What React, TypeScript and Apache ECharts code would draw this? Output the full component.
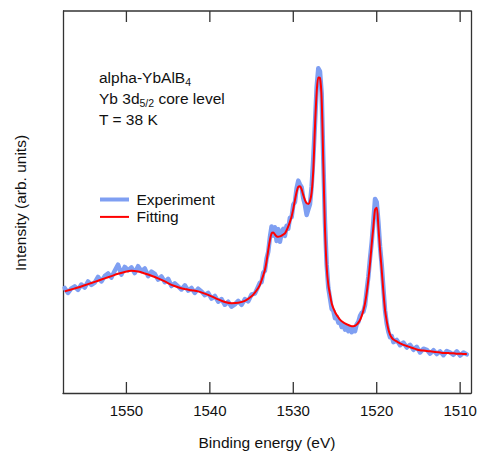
import React, { useEffect, useRef } from 'react';
import * as echarts from 'echarts';

// Binding-energy axis range (eV) and tick values
const energyMin = 1508.7;
const energyMax = 1557.6;
const energyStep = 10;
const energyTicks = [1510, 1520, 1530, 1540, 1550];

// Axis titles
const xTitle = 'Binding energy (eV)';
const yTitle = 'Intensity (arb. units)';

// Fitting curve: [binding energy (eV), intensity (arb. units)]
const fitCurve: [number, number][] = [
  [1557.4, 26.6], [1556.6, 27.1], [1555.8, 27.6], [1555.0, 28.2], [1554.2, 28.8],
  [1553.4, 29.4], [1552.6, 30.0], [1551.8, 30.6], [1551.0, 31.2], [1550.2, 31.7],
  [1549.4, 32.0], [1548.6, 31.8], [1547.8, 31.3], [1547.0, 30.7], [1546.2, 30.0],
  [1545.4, 29.2], [1544.6, 28.3], [1543.8, 27.7], [1543.0, 27.2], [1542.2, 26.9],
  [1541.4, 26.6], [1540.6, 26.0], [1539.8, 25.3], [1539.0, 24.5], [1538.2, 23.8],
  [1537.4, 23.5], [1536.6, 23.6], [1535.8, 24.1], [1535.0, 25.3], [1534.6, 26.3],
  [1534.2, 27.5], [1534.0, 28.3], [1533.8, 29.5], [1533.6, 30.8], [1533.4, 32.2],
  [1533.2, 34.5], [1533.0, 37.4], [1532.8, 40.0], [1532.6, 41.8], [1532.4, 42.0],
  [1532.2, 41.5], [1532.0, 41.0], [1531.8, 40.9], [1531.6, 41.0], [1531.4, 41.2],
  [1531.2, 41.5], [1531.0, 41.8], [1530.8, 42.6], [1530.6, 43.6], [1530.4, 44.8],
  [1530.2, 46.2], [1530.0, 48.2], [1529.8, 50.5], [1529.6, 52.6], [1529.4, 54.0],
  [1529.2, 54.1], [1529.0, 53.3], [1528.8, 51.8], [1528.6, 50.5], [1528.4, 49.7],
  [1528.2, 49.5], [1528.0, 50.2], [1527.8, 52.5], [1527.6, 58.4], [1527.4, 69.7],
  [1527.2, 78.5], [1527.0, 82.6], [1526.8, 82.5], [1526.6, 77.0], [1526.4, 60.0],
  [1526.2, 43.0], [1526.0, 33.0], [1525.8, 28.3], [1525.6, 25.8], [1525.4, 23.5],
  [1525.2, 22.2], [1525.0, 21.2], [1524.8, 20.4], [1524.6, 19.8], [1524.4, 19.2],
  [1524.2, 18.8], [1524.0, 18.5], [1523.8, 18.2], [1523.6, 18.0], [1523.4, 17.8],
  [1523.2, 17.6], [1523.0, 17.5], [1522.8, 17.5], [1522.6, 17.6], [1522.4, 17.9],
  [1522.2, 18.4], [1522.0, 19.1], [1521.8, 20.2], [1521.6, 21.6], [1521.4, 23.5],
  [1521.2, 26.2], [1521.0, 29.8], [1520.8, 34.0], [1520.6, 39.0], [1520.4, 43.5],
  [1520.2, 48.0], [1520.0, 48.5], [1519.8, 43.5], [1519.6, 37.5], [1519.4, 32.2],
  [1519.2, 26.5], [1519.0, 21.7], [1518.8, 18.8], [1518.6, 16.6], [1518.4, 15.3],
  [1518.2, 14.5], [1518.0, 14.0], [1517.6, 13.5], [1517.2, 13.0], [1516.8, 12.6],
  [1516.4, 12.3], [1516.0, 12.0], [1515.6, 11.7], [1515.2, 11.4], [1514.8, 11.2],
  [1514.4, 11.1], [1514.0, 11.0], [1513.6, 10.9], [1513.2, 10.8], [1512.8, 10.7],
  [1512.4, 10.6], [1512.0, 10.5], [1511.6, 10.5], [1511.2, 10.4], [1510.8, 10.4],
  [1510.4, 10.3], [1510.0, 10.3], [1509.6, 10.2], [1509.2, 10.2],
];

// Measured spectrum: [binding energy (eV), intensity (arb. units)]
const experimentCurve: [number, number][] = [
  [1557.4, 27.5], [1557.0, 26.2], [1556.6, 27.4], [1556.2, 27.9], [1555.8, 27.0],
  [1555.4, 28.4], [1555.0, 27.6], [1554.6, 29.2], [1554.2, 28.3], [1553.8, 28.9],
  [1553.4, 30.4], [1553.0, 29.2], [1552.6, 30.6], [1552.2, 31.3], [1551.8, 30.2],
  [1551.4, 32.0], [1551.0, 33.6], [1550.6, 31.0], [1550.2, 33.0], [1549.8, 32.1],
  [1549.4, 32.9], [1549.0, 31.4], [1548.6, 33.2], [1548.2, 31.9], [1547.8, 32.6],
  [1547.4, 30.6], [1547.0, 31.8], [1546.6, 31.2], [1546.2, 29.7], [1545.8, 30.5],
  [1545.4, 29.0], [1545.0, 29.9], [1544.6, 28.0], [1544.2, 28.7], [1543.8, 27.9],
  [1543.4, 27.1], [1543.0, 28.2], [1542.6, 26.8], [1542.2, 27.5], [1541.8, 26.2],
  [1541.4, 27.3], [1541.0, 26.6], [1540.6, 25.6], [1540.2, 26.2], [1539.8, 24.7],
  [1539.4, 25.4], [1539.0, 23.9], [1538.6, 24.6], [1538.2, 23.1], [1537.8, 23.9],
  [1537.4, 22.6], [1537.0, 23.2], [1536.6, 24.1], [1536.2, 23.1], [1535.8, 24.6],
  [1535.4, 24.0], [1535.0, 25.8], [1534.6, 26.0], [1534.2, 27.9],
  [1534.0, 28.9], [1533.8, 29.0], [1533.6, 31.5], [1533.4, 32.0], [1533.2, 35.2],
  [1533.0, 37.0], [1532.8, 40.8], [1532.6, 43.6], [1532.4, 41.2], [1532.2, 43.4],
  [1532.0, 39.8], [1531.8, 42.9], [1531.6, 39.6], [1531.4, 41.8], [1531.2, 43.0],
  [1531.0, 41.1], [1530.8, 43.8], [1530.6, 43.0], [1530.4, 45.9], [1530.2, 46.0],
  [1530.0, 49.3], [1529.8, 50.0], [1529.6, 53.6], [1529.4, 55.6], [1529.2, 54.6],
  [1529.0, 53.9], [1528.8, 50.9], [1528.6, 49.2], [1528.4, 46.6], [1528.2, 48.0],
  [1528.0, 49.4], [1527.8, 54.0], [1527.6, 61.5], [1527.4, 70.5], [1527.2, 80.0],
  [1527.0, 85.0], [1526.8, 84.2], [1526.6, 78.5], [1526.4, 61.0], [1526.2, 44.5],
  [1526.0, 33.6], [1525.8, 27.5], [1525.6, 24.8], [1525.4, 22.0], [1525.2, 21.5],
  [1525.0, 19.6], [1524.8, 20.0], [1524.6, 18.4], [1524.4, 18.6], [1524.2, 17.3],
  [1524.0, 18.0], [1523.8, 16.6], [1523.6, 17.4], [1523.4, 16.2], [1523.2, 16.9],
  [1523.0, 15.9], [1522.8, 16.8], [1522.6, 16.2], [1522.4, 18.0], [1522.2, 18.6],
  [1522.0, 20.2], [1521.8, 21.0], [1521.6, 21.3], [1521.4, 23.0], [1521.2, 26.9],
  [1521.0, 30.5], [1520.8, 35.3], [1520.6, 39.5], [1520.4, 45.0], [1520.2, 50.8],
  [1520.0, 50.0], [1519.8, 44.8], [1519.6, 38.3], [1519.4, 33.5], [1519.2, 27.4],
  [1519.0, 21.6], [1518.8, 18.2], [1518.6, 16.0], [1518.4, 14.6], [1518.2, 14.9],
  [1518.0, 13.3],
  [1517.6, 13.9], [1517.2, 12.5], [1516.8, 13.2], [1516.4, 11.9], [1516.0, 12.6],
  [1515.6, 11.3], [1515.2, 12.1], [1514.8, 10.6], [1514.4, 11.6], [1514.0, 11.3],
  [1513.6, 10.3], [1513.2, 11.2], [1512.8, 10.2], [1512.4, 10.9], [1512.0, 9.9],
  [1511.6, 11.0], [1511.2, 10.6], [1510.8, 10.0], [1510.4, 10.9], [1510.0, 9.8],
  [1509.6, 10.6], [1509.2, 10.1],
];

const seriesNames = ['Experiment', 'Fitting'];
const annotationLines = ['alpha-YbAlB{s|4}', 'Yb 3d{s|5/2} core level', 'T = 38 K'];

const FONT = 'Liberation Sans, Arial, Helvetica, sans-serif';
const AXIS_COLOR = '#333';
const TEXT_COLOR = '#111';
const BLUE = '#7f9ff2';
const RED = '#ff0000';
const TICK_LEN = 11;

function lineStyle() {
  return { color: AXIS_COLOR, width: 1.3 };
}

function makeYAxis(position: 'left' | 'right') {
  return {
    type: 'value',
    position,
    min: 0,
    max: 100,
    splitLine: { show: false },
    axisTick: { show: false },
    axisLabel: { show: false },
    axisLine: { show: true, onZero: false, lineStyle: lineStyle() },
  };
}

export default function App() {
  const ref = useRef<HTMLDivElement>(null);

  useEffect(() => {
    if (!ref.current) return;
    const chart = echarts.init(ref.current, null, { renderer: 'svg' });

    const annotationGraphics = annotationLines.map((t, i) => ({
      type: 'text',
      x: 99,
      y: 77 + i * 21,
      silent: true,
      style: {
        text: t,
        fill: TEXT_COLOR,
        fontSize: 15.5,
        fontFamily: FONT,
        lineHeight: 20,
        verticalAlign: 'middle',
        align: 'left',
        rich: {
          s: {
            fontSize: 10.5,
            fontFamily: FONT,
            lineHeight: 10,
            verticalAlign: 'bottom',
            fill: TEXT_COLOR,
          },
        },
      },
    }));

    const legendColors = [BLUE, RED];
    const legendWidths = [4, 2];
    const legendGraphics: any[] = [];
    seriesNames.forEach((name, i) => {
      const y = 199.5 + i * 17.4;
      legendGraphics.push({
        type: 'line',
        silent: true,
        shape: { x1: 100, y1: y, x2: 129, y2: y },
        style: { stroke: legendColors[i], lineWidth: legendWidths[i] },
      });
      legendGraphics.push({
        type: 'text',
        x: 136.5,
        y,
        silent: true,
        style: {
          text: name,
          fill: TEXT_COLOR,
          fontSize: 15.5,
          fontFamily: FONT,
          verticalAlign: 'middle',
          align: 'left',
        },
      });
    });

    const titleGraphics = [
      {
        type: 'text',
        x: 267,
        y: 442,
        silent: true,
        style: {
          text: xTitle,
          fill: TEXT_COLOR,
          fontSize: 15.5,
          fontFamily: FONT,
          align: 'center',
          verticalAlign: 'middle',
        },
      },
      {
        type: 'text',
        x: 20.5,
        y: 203,
        rotation: Math.PI / 2,
        silent: true,
        style: {
          text: yTitle,
          fill: TEXT_COLOR,
          fontSize: 15.5,
          fontFamily: FONT,
          align: 'center',
          verticalAlign: 'middle',
        },
      },
    ];

    // Frame ticks (bottom & top, pointing inward) + top border, placed with the x scale
    const tickRenderItem = (params: any, api: any) => {
      const cs = params.coordSys;
      const x = api.coord([api.value(0), 0])[0];
      const stroke = { stroke: AXIS_COLOR, lineWidth: 1.3 };
      const children: any[] = [
        {
          type: 'line',
          shape: { x1: x, y1: cs.y + cs.height, x2: x, y2: cs.y + cs.height - TICK_LEN },
          style: stroke,
        },
        {
          type: 'line',
          shape: { x1: x, y1: cs.y, x2: x, y2: cs.y + TICK_LEN },
          style: stroke,
        },
      ];
      if (params.dataIndex === 0) {
        children.push({
          type: 'line',
          shape: { x1: cs.x, y1: cs.y, x2: cs.x + cs.width, y2: cs.y },
          style: stroke,
        });
      }
      return { type: 'group', children };
    };

    chart.setOption({
      animation: false,
      backgroundColor: '#ffffff',
      textStyle: { fontFamily: FONT },
      grid: {
        left: 63,
        right: 8,
        top: 11,
        bottom: 60,
        containLabel: false,
        outerBoundsMode: 'none',
      },
      xAxis: {
        type: 'value',
        position: 'bottom',
        inverse: true,
        min: energyMin,
        max: energyMax,
        minInterval: energyStep,
        maxInterval: energyStep,
        splitLine: { show: false },
        axisLine: { show: true, onZero: false, lineStyle: lineStyle() },
        axisTick: { show: false },
        axisLabel: {
          show: true,
          formatter: (v: number) => (Math.abs(v % energyStep) < 1e-6 ? String(v) : ''),
          margin: 10,
          fontSize: 15,
          color: TEXT_COLOR,
        },
      },
      yAxis: [makeYAxis('left'), makeYAxis('right')],
      series: [
        {
          name: seriesNames[0],
          type: 'line',
          xAxisIndex: 0,
          yAxisIndex: 0,
          data: experimentCurve,
          showSymbol: false,
          symbol: 'none',
          smooth: false,
          lineStyle: { color: BLUE, width: 4.5, join: 'round', cap: 'round' },
          silent: true,
          z: 2,
        },
        {
          name: seriesNames[1],
          type: 'line',
          xAxisIndex: 0,
          yAxisIndex: 0,
          data: fitCurve,
          showSymbol: false,
          symbol: 'none',
          smooth: 0.3,
          lineStyle: { color: RED, width: 2 },
          silent: true,
          z: 3,
        },
        {
          name: 'ticks',
          type: 'custom',
          xAxisIndex: 0,
          yAxisIndex: 0,
          data: energyTicks.map((t) => [t, 0]),
          renderItem: tickRenderItem,
          silent: true,
          clip: false,
          z: 4,
        },
      ],
      graphic: [...annotationGraphics, ...legendGraphics, ...titleGraphics],
    });

    return () => chart.dispose();
  }, []);

  return (
    <div
      ref={ref}
      style={{ position: 'fixed', left: 0, top: 0, width: 479, height: 453 }}
    />
  );
}
